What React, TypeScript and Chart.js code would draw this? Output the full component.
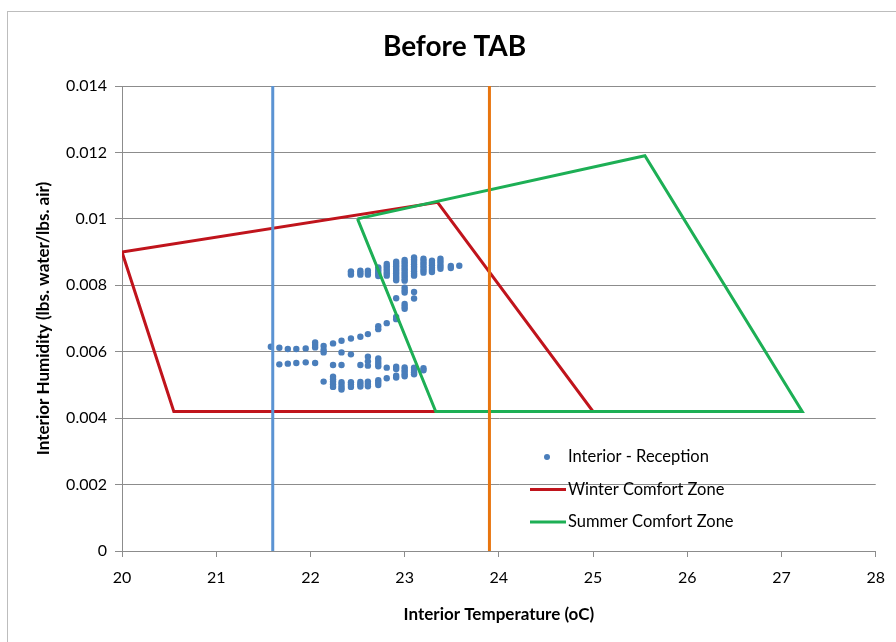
import React, { useEffect, useRef } from 'react';
import { Chart, registerables } from 'chart.js';

Chart.register(...registerables);

// ---- Data ----
const chartTitle = 'Before TAB';
const xAxisTitle = 'Interior Temperature (oC)';
const yAxisTitle = 'Interior Humidity (lbs. water/lbs. air)';

const xTickLabels = ['20', '21', '22', '23', '24', '25', '26', '27', '28'];
const yTickLabels = ['0', '0.002', '0.004', '0.006', '0.008', '0.01', '0.012', '0.014'];

// Interior - Reception readings [temperature °C, humidity lbs/lbs]
const receptionUpper: [number, number][] = [
  [22.43, 0.00842], [22.43, 0.00837], [22.43, 0.00832],
  [22.53, 0.00844], [22.53, 0.00838], [22.53, 0.00832],
  [22.61, 0.00844], [22.61, 0.00838], [22.61, 0.00832],
  [22.72, 0.00854], [22.72, 0.00847], [22.72, 0.0084], [22.72, 0.00834], [22.72, 0.00828],
  [22.81, 0.00864], [22.81, 0.00857], [22.81, 0.0085], [22.81, 0.00843], [22.81, 0.00836], [22.81, 0.00829],
  [22.91, 0.00871], [22.91, 0.00864], [22.91, 0.00857], [22.91, 0.0085], [22.91, 0.00843], [22.91, 0.00836], [22.91, 0.00829], [22.91, 0.00822], [22.91, 0.00815],
  [23.0, 0.00876], [23.0, 0.00869], [23.0, 0.00862], [23.0, 0.00855], [23.0, 0.00848], [23.0, 0.00841], [23.0, 0.00834], [23.0, 0.00827], [23.0, 0.0082], [23.0, 0.00814],
  [23.1, 0.00884], [23.1, 0.00877], [23.1, 0.0087], [23.1, 0.00863], [23.1, 0.00856], [23.1, 0.00849], [23.1, 0.00842], [23.1, 0.00835], [23.1, 0.00829],
  [23.2, 0.0088], [23.2, 0.00873], [23.2, 0.00866], [23.2, 0.00859], [23.2, 0.00852], [23.2, 0.00845], [23.2, 0.00838],
  [23.29, 0.00874], [23.29, 0.00867], [23.29, 0.0086], [23.29, 0.00853], [23.29, 0.00846], [23.29, 0.0084],
  [23.38, 0.0088], [23.38, 0.00872], [23.38, 0.00864], [23.38, 0.00857], [23.38, 0.0085],
  [23.49, 0.00858], [23.49, 0.00852],
  [23.58, 0.00859],
];

const receptionTransition: [number, number][] = [
  [23.1, 0.0078], [23.1, 0.0076],
  [23.0, 0.00793], [23.0, 0.00785], [23.0, 0.00778],
  [22.91, 0.00761],
  [23.0, 0.00744], [23.0, 0.00736], [23.0, 0.00729],
  [22.91, 0.00705], [22.91, 0.00698],
  [22.81, 0.00686],
  [22.72, 0.00677], [22.72, 0.00668],
  [22.61, 0.00653], [22.53, 0.00645], [22.43, 0.0064], [22.33, 0.00633], [22.24, 0.00625], [22.14, 0.00617],
  [22.05, 0.00628], [22.05, 0.0062], [22.05, 0.00613],
  [21.95, 0.0061], [21.85, 0.00608], [21.76, 0.00608], [21.67, 0.00612], [21.58, 0.00615],
];

const receptionMiddle: [number, number][] = [
  [22.14, 0.00605], [22.14, 0.00598],
  [22.33, 0.00598], [22.43, 0.00592],
  [21.67, 0.00562], [21.76, 0.00564], [21.85, 0.00566], [21.95, 0.00568], [22.05, 0.00566],
  [22.24, 0.0056], [22.33, 0.0056], [22.53, 0.0056],
  [22.61, 0.00585], [22.61, 0.00571], [22.61, 0.00558],
  [22.72, 0.0058], [22.72, 0.00572], [22.72, 0.00564], [22.72, 0.00556],
  [22.81, 0.00552], [22.91, 0.00555], [22.91, 0.00548],
  [23.0, 0.00553], [23.0, 0.00546], [23.0, 0.0054],
  [23.1, 0.00552], [23.1, 0.00545],
  [23.2, 0.0055], [23.2, 0.00544],
];

const receptionLower: [number, number][] = [
  [22.14, 0.0051],
  [22.24, 0.00525], [22.24, 0.00517], [22.24, 0.0051], [22.24, 0.00502], [22.24, 0.00494],
  [22.33, 0.00508], [22.33, 0.005], [22.33, 0.00492], [22.33, 0.00486],
  [22.43, 0.00508], [22.43, 0.00501], [22.43, 0.00494],
  [22.53, 0.00509], [22.53, 0.00502], [22.53, 0.00495],
  [22.61, 0.0051], [22.61, 0.00503], [22.61, 0.00496],
  [22.72, 0.00514], [22.72, 0.00507], [22.72, 0.005],
  [22.81, 0.0052], [22.91, 0.00528], [22.91, 0.00522],
  [23.0, 0.00532], [23.0, 0.00526], [23.1, 0.00538], [23.1, 0.00532],
];

const winterZoneTemp = [20, 23.35, 25, 20.55, 20];
const winterZoneHumidity = [0.009, 0.0105, 0.0042, 0.0042, 0.009];

const summerZoneTemp = [22.5, 25.55, 27.22, 23.33, 22.5];
const summerZoneHumidity = [0.01, 0.0119, 0.0042, 0.0042, 0.01];

const blueLineTemp = [21.6, 21.6];
const orangeLineTemp = [23.9, 23.9];
const verticalLineHumidity = [0, 0.014];

const FONT = 'Lato, "Open Sans", sans-serif';

const toPoints = (xs: number[], ys: number[]) => xs.map((x, i) => ({ x, y: ys[i] }));
const pairsToPoints = (arr: [number, number][]) => arr.map(([x, y]) => ({ x, y }));

const insideLegend = {
  id: 'insideLegend',
  afterDatasetsDraw(chart: any) {
    const { ctx, chartArea } = chart;
    const items = chart.data.datasets.filter((d: any) => d.inLegend);
    ctx.save();
    ctx.font = `16.5px ${FONT}`;
    ctx.fillStyle = '#000';
    ctx.textBaseline = 'middle';
    ctx.textAlign = 'left';
    const lineStart = chartArea.left + 408;
    const lineEnd = chartArea.left + 444;
    const textX = chartArea.left + 446;
    items.forEach((d: any, i: number) => {
      const y = chartArea.top + 371 + i * 32.5;
      if (d.legendKind === 'dot') {
        ctx.beginPath();
        ctx.fillStyle = d.backgroundColor;
        ctx.arc(chartArea.left + 425, y, 3, 0, Math.PI * 2);
        ctx.fill();
      } else {
        ctx.beginPath();
        ctx.strokeStyle = d.borderColor;
        ctx.lineWidth = 3;
        ctx.moveTo(lineStart, y);
        ctx.lineTo(lineEnd, y);
        ctx.stroke();
      }
      ctx.fillStyle = '#000';
      ctx.fillText(d.label, textX, y);
    });
    ctx.restore();
  },
};

export default function App() {
  const canvasRef = useRef<HTMLCanvasElement | null>(null);

  useEffect(() => {
    if (!canvasRef.current) return;
    const gridColor = '#8c8c8c';
    const chart = new Chart(canvasRef.current, {
      type: 'scatter',
      data: {
        datasets: [
          {
            label: 'Interior - Reception',
            data: pairsToPoints([...receptionUpper, ...receptionTransition, ...receptionMiddle, ...receptionLower]),
            backgroundColor: '#4A7EBB',
            borderWidth: 0,
            pointRadius: 3.2,
            order: 5,
            inLegend: true,
            legendKind: 'dot',
          } as any,
          {
            label: 'Winter Comfort Zone',
            data: toPoints(winterZoneTemp, winterZoneHumidity),
            showLine: true,
            borderColor: '#C0141C',
            backgroundColor: '#C0141C',
            borderWidth: 3,
            pointRadius: 0,
            fill: false,
            order: 4,
            inLegend: true,
            legendKind: 'line',
          } as any,
          {
            label: 'Summer Comfort Zone',
            data: toPoints(summerZoneTemp, summerZoneHumidity),
            showLine: true,
            borderColor: '#1DAF55',
            backgroundColor: '#1DAF55',
            borderWidth: 3,
            pointRadius: 0,
            fill: false,
            order: 3,
            inLegend: true,
            legendKind: 'line',
          } as any,
          {
            label: 'Low limit',
            data: toPoints(blueLineTemp, verticalLineHumidity),
            showLine: true,
            borderColor: '#5B93D3',
            borderWidth: 3,
            pointRadius: 0,
            order: 2,
          } as any,
          {
            label: 'High limit',
            data: toPoints(orangeLineTemp, verticalLineHumidity),
            showLine: true,
            borderColor: '#E8750F',
            borderWidth: 3,
            pointRadius: 0,
            order: 1,
          } as any,
        ],
      },
      options: {
        responsive: false,
        animation: false,
        devicePixelRatio: 1,
        layout: { padding: { left: 33, right: 20, top: 0, bottom: 13 } },
        plugins: {
          legend: { display: false },
          tooltip: { enabled: false },
          title: {
            display: true,
            text: chartTitle,
            color: '#000',
            font: { family: FONT, size: 28, weight: 'bold' },
            padding: { top: 30, bottom: 22.4 },
          },
        },
        scales: {
          x: {
            type: 'linear',
            min: 20,
            max: 28,
            afterFit: (scale: any) => {
              scale.height = 78;
            },
            ticks: {
              stepSize: 1,
              color: '#000',
              padding: 11,
              maxRotation: 0,
              font: { family: FONT, size: 16 },
              callback: (v: any) => {
                const lbl = xTickLabels.find((t) => Math.abs(parseFloat(t) - Number(v)) < 1e-9);
                return lbl ?? '';
              },
            },
            grid: {
              display: true,
              drawOnChartArea: false,
              drawTicks: true,
              tickLength: 6,
              color: gridColor,
            },
            border: { display: true, color: gridColor, width: 1 },
            title: {
              display: true,
              text: xAxisTitle,
              color: '#000',
              font: { family: FONT, size: 17, weight: 'bold' },
              padding: { top: 4, bottom: 4 },
            },
          },
          y: {
            type: 'linear',
            min: 0,
            max: 0.014,
            afterFit: (scale: any) => {
              scale.width = 89;
            },
            ticks: {
              stepSize: 0.002,
              color: '#000',
              padding: 8,
              font: { family: FONT, size: 16 },
              callback: (v: any) => {
                const lbl = yTickLabels.find((t) => Math.abs(parseFloat(t) - Number(v)) < 1e-9);
                return lbl ?? '';
              },
            },
            grid: {
              display: true,
              drawOnChartArea: true,
              drawTicks: true,
              tickLength: 7,
              color: gridColor,
              lineWidth: 1,
            },
            border: { display: true, color: gridColor, width: 1 },
            title: {
              display: true,
              text: yAxisTitle,
              color: '#000',
              font: { family: FONT, size: 17, weight: 'bold' },
              padding: { top: 0, bottom: 0 },
            },
          },
        },
      },
      plugins: [insideLegend],
    });
    return () => chart.destroy();
  }, []);

  return (
    <div
      style={{
        position: 'absolute',
        left: 0,
        top: 0,
        width: 896,
        height: 642,
        overflow: 'hidden',
        background: '#fff',
      }}
    >
      <div
        style={{
          position: 'absolute',
          left: 7,
          top: 11,
          width: 1000,
          height: 1000,
          border: '1px solid #bdbdbd',
        }}
      />
      <canvas
        ref={canvasRef}
        width={896}
        height={642}
        style={{ position: 'absolute', left: 0, top: 0, display: 'block' }}
      />
    </div>
  );
}
